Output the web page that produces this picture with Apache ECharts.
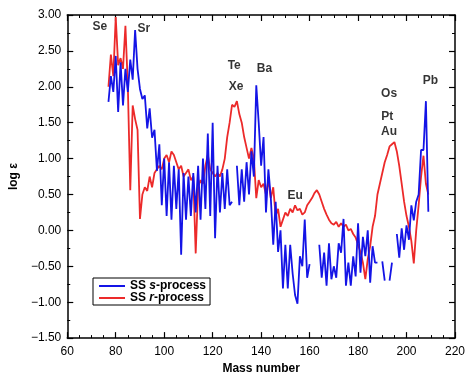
<!DOCTYPE html>
<html>
<head>
<meta charset="utf-8">
<script src="https://cdn.jsdelivr.net/npm/echarts@6/dist/echarts.min.js"></script>
<style>
  html, body { margin: 0; padding: 0; background: #fff; }
  #chart { width: 468px; height: 380px; }
</style>
</head>
<body>
<div id="chart"></div>
<script>
// mass numbers run from MASS_START upward, one value per mass number (null = no point)
const MASS_START = 77;

const sProcess = [
  1.79, 2.15, 1.93, 2.43, 1.65, 2.34, 1.74, 2.25, 1.93, 2.38, // 77-86
  2.1, 2.79, 2.25, 1.97, 1.83, 1.88, 1.42, 1.7, 1.29, 1.4,    // 87-96
  0.83, 1.2, 0.35, 1.0, 0.2, 0.95, 0.15, 0.9, 0.3, 0.85,      // 97-106
  -0.34, 0.8, 0.15, 0.75, 0.2, 0.8, 0.25, 0.9, 0.15, 1.0,     // 107-116
  0.3, 1.35, 0.2, 1.5, -0.11, 0.9, 0.25, 0.8, 0.3, 0.85,      // 117-126
  0.35, 0.4, null, 0.9, 0.35, 0.85, 0.4, 0.95, 0.5, 1.1,      // 127-136
  0.75, 2.02, 1.5, 0.9, 1.3, 0.25, 0.85, 0.45, -0.2, 0.4,     // 137-146
  -0.3, 0.0, -0.81, -0.2, -0.81, -0.2, -0.6, -0.9, -1.02, -0.36, // 147-156
  -0.5, 0.15, -0.66, -0.47, null, null, null, -0.2, -0.66, -0.31, // 157-166
  -0.77, -0.18, -0.68, -0.5, -0.66, -0.18, -0.31, 0.16, -0.77, -0.45, // 167-176
  -0.77, -0.36, -0.64, 0.1, -0.59, -0.09, -0.36, 0.0, -0.73, -0.22, // 177-186
  -0.45, -0.45, null, -0.43, -0.7, null, -0.7, -0.45, null, -0.05, // 187-196
  -0.38, 0.03, -0.27, 0.07, -0.13, 0.35, 0.14, 0.4, 0.5, 1.12, // 197-206
  1.12, 1.8, 0.26                                               // 207-209
];

const rProcess = [
  2.0, 2.45, 2.15, 2.97, 2.3, 2.4, 2.25, 2.85, 2.0, 0.56,     // 77-86
  1.74, 1.55, 1.4, 0.16, 0.5, 0.6, 0.55, 0.75, 0.6, 0.8,      // 87-96
  0.85, 0.9, 0.85, 1.0, 1.05, 0.95, 1.1, 1.05, 0.95, 0.85,    // 97-106
  0.9, 0.75, 0.8, 0.85, 0.7, 0.75, -0.32, 0.6, 0.7, 0.65,     // 107-116
  0.9, 1.05, 0.85, 0.8, 0.75, 0.8, 0.75, 0.85, 1.0, 1.3,      // 117-126
  1.5, 1.75, 1.72, 1.8, 1.62, 1.5, 1.3, 1.15, 1.0, 1.15,      // 127-136
  1.0, 0.45, 0.7, 0.6, 0.65, 0.5, 0.7, 0.45, 0.6, 0.2,        // 137-146
  0.3, 0.05, 0.15, 0.25, 0.2, 0.3, 0.25, 0.35, 0.28, 0.3,     // 147-156
  0.22, 0.25, 0.35, 0.4, 0.45, 0.52, 0.56, 0.5, 0.4, 0.3,     // 157-166
  0.22, 0.15, 0.1, 0.08, 0.12, 0.05, 0.1, 0.05, 0.08, 0.0,    // 167-176
  0.02, -0.05, -0.1, -0.2, -0.3, -0.45, -0.68, -0.4, -0.22, 0.05, // 177-186
  0.2, 0.5, 0.65, 0.8, 0.95, 1.05, 1.17, 1.2, 1.23, 1.1,      // 187-196
  0.9, 0.65, 0.4, 0.2, 0.05, -0.15, -0.46, 0.0, 0.35, 0.75,   // 197-206
  1.04, 0.65, 0.5                                             // 207-209
];

// element annotations
const elementNames = ["Se", "Sr", "Te", "Xe", "Ba", "Eu", "Os", "Pt", "Au", "Pb"];
const elementMass = [73.4, 91.6, 128.9, 129.7, 141.4, 154.0, 192.8, 192.0, 192.8, 209.9];
const elementLogEps = [2.84, 2.81, 2.29, 2.0, 2.25, 0.49, 1.9, 1.59, 1.37, 2.08];

const seriesNames = ["SS s-process", "SS r-process"];

const toPairs = (vals) => vals.map((v, i) => [MASS_START + i, v]);

const FONT = "'Liberation Sans', Arial, Helvetica, sans-serif";
const ink = "#000";
const BLUE = "#1414e6";
const RED = "#ec2a2a";

const frameAxis = {
  axisLine: { show: true, onZero: false, lineStyle: { color: ink, width: 1.5 } },
  axisTick: { show: true, inside: true, length: 6, lineStyle: { color: ink, width: 1.2 } },
  minorTick: { show: true, length: 3, lineStyle: { color: ink, width: 1 } },
  splitLine: { show: false },
};

const chart = echarts.init(document.getElementById("chart"), null, { renderer: "canvas" });

chart.setOption({
  animation: false,
  backgroundColor: "#fff",
  textStyle: { fontFamily: FONT },
  grid: { left: 65, right: 8, top: 15, bottom: 37 },
  legend: {
    left: 93,
    top: 278,
    orient: "vertical",
    itemGap: 0,
    itemWidth: 26,
    itemHeight: 2,
    icon: "rect",
    padding: [2, 4, 1, 6],
    borderColor: ink,
    borderWidth: 1,
    data: seriesNames,
    textStyle: {
      fontFamily: FONT,
      fontSize: 12,
      fontWeight: "bold",
      color: ink,
      lineHeight: 12,
      rich: {
        b: { fontFamily: FONT, fontSize: 12, fontWeight: "bold", color: ink, lineHeight: 12 },
        i: { fontFamily: FONT, fontSize: 12, fontWeight: "bold", fontStyle: "italic", color: ink, lineHeight: 12 },
      },
    },
    formatter: (name) => {
      const p = name.split(" ")[1].split("-");
      return `{b|SS }{i|${p[0]}}{b|-${p[1]}}`;
    },
  },
  xAxis: [
    {
      ...frameAxis,
      type: "value",
      position: "bottom",
      min: 60,
      max: 220,
      interval: 20,
      minorTick: { ...frameAxis.minorTick, splitNumber: 4 },
      axisLabel: { color: ink, fontSize: 12, margin: 8, fontFamily: FONT },
      name: "Mass number",
      nameLocation: "middle",
      nameGap: 23,
      nameTextStyle: { color: ink, fontSize: 12, fontWeight: "bold", fontFamily: FONT },
    },
    {
      ...frameAxis,
      type: "value",
      position: "top",
      min: 60,
      max: 220,
      interval: 20,
      minorTick: { ...frameAxis.minorTick, splitNumber: 4 },
      axisLabel: { show: false },
    },
  ],
  yAxis: [
    {
      ...frameAxis,
      type: "value",
      position: "left",
      min: -1.5,
      max: 3,
      interval: 0.5,
      minorTick: { ...frameAxis.minorTick, splitNumber: 2 },
      axisLabel: {
        color: ink,
        fontSize: 12,
        margin: 6,
        fontFamily: FONT,
        formatter: (v) => v.toFixed(2).replace("-", "\u2212"),
      },
      name: "log \u03b5",
      nameLocation: "middle",
      nameGap: 46,
      nameRotate: 90,
      nameTextStyle: { color: ink, fontSize: 12, fontWeight: "bold", fontFamily: FONT },
    },
    {
      ...frameAxis,
      type: "value",
      position: "right",
      min: -1.5,
      max: 3,
      interval: 0.5,
      minorTick: { ...frameAxis.minorTick, splitNumber: 2 },
      axisLabel: { show: false },
    },
  ],
  series: [
    {
      name: seriesNames[0],
      type: "line",
      data: toPairs(sProcess),
      showSymbol: false,
      symbol: "none",
      connectNulls: false,
      lineStyle: { color: BLUE, width: 1.8 },
      itemStyle: { color: BLUE },
      z: 3,
    },
    {
      name: seriesNames[1],
      type: "line",
      data: toPairs(rProcess),
      showSymbol: false,
      symbol: "none",
      connectNulls: false,
      lineStyle: { color: RED, width: 1.8 },
      itemStyle: { color: RED },
      z: 2,
    },
    {
      name: "labels",
      type: "scatter",
      data: elementNames.map((n, i) => ({ value: [elementMass[i], elementLogEps[i]], name: n })),
      symbolSize: 2,
      itemStyle: { color: "rgba(0,0,0,0)" },
      silent: true,
      label: {
        show: true,
        position: "inside",
        formatter: (p) => p.name,
        color: ink,
        fontSize: 12,
        fontWeight: "bold",
        fontFamily: FONT,
      },
      z: 5,
    },
  ],
});
</script>
</body>
</html>
